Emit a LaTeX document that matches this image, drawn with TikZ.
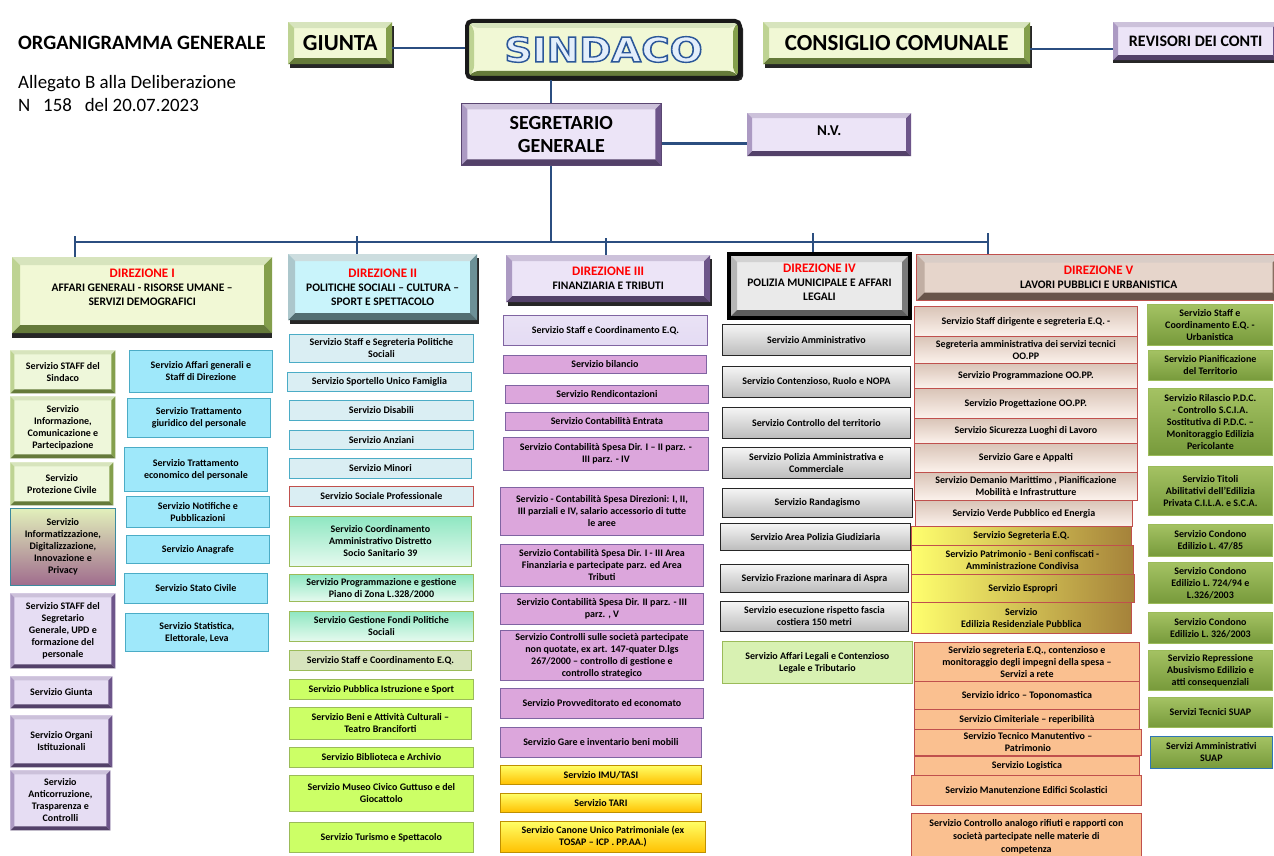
\documentclass[tikz,border=0pt]{standalone}
\usepackage{fontspec}
\setmainfont{Carlito}
\newfontfamily\wordartfont{DejaVu Sans}
\usepackage{graphicx}
\usepackage{tikz}
\usetikzlibrary{shadows}
\usepackage{xcolor}
\definecolor{linkblue}{HTML}{2B4E80}
\definecolor{offgreen}{HTML}{9BBB59}
\definecolor{offpurple}{HTML}{8064A2}
\definecolor{offteal}{HTML}{4BACC6}
\definecolor{offred}{HTML}{C0504D}
\definecolor{limecentre}{HTML}{F1F8D5}
\definecolor{lilaccentre}{HTML}{ECE4F7}
\definecolor{icecentre}{HTML}{C9F4FB}
\definecolor{greycentre}{HTML}{EAEAEA}
\definecolor{tancentre}{HTML}{E6D5CB}
\definecolor{tanedge}{HTML}{A08272}
\definecolor{tealedge}{HTML}{7FA9B0}
\definecolor{greyedge}{HTML}{8F8F8F}
\definecolor{sidegreen}{HTML}{EEF7DA}
\definecolor{sidelilac}{HTML}{E6DDF3}
\definecolor{infotop}{HTML}{E2F0BB}
\definecolor{infobot}{HTML}{A06C8D}
\definecolor{cyanfill}{HTML}{9FE8FA}
\definecolor{paleblue}{HTML}{DAEEF3}
\definecolor{mintdark}{HTML}{8FE7C2}
\definecolor{mintlight}{HTML}{E6FAEF}
\definecolor{eqgreen}{HTML}{D7E4BD}
\definecolor{limefill}{HTML}{CCFF66}
\definecolor{plumfill}{HTML}{DCA6DC}
\definecolor{lilacfill}{HTML}{E4DBF3}
\definecolor{goldtop}{HTML}{FFFF66}
\definecolor{goldbot}{HTML}{FFC000}
\definecolor{goldedge}{HTML}{BF9000}
\definecolor{greytop}{HTML}{F5F5F5}
\definecolor{greybot}{HTML}{BCBCBC}
\definecolor{tantop}{HTML}{D9C4B7}
\definecolor{tanbot}{HTML}{FCF2EC}
\definecolor{ochreleft}{HTML}{FFFF6E}
\definecolor{ochreright}{HTML}{A5823A}
\definecolor{salmonfill}{HTML}{FAC090}
\definecolor{olivetop}{HTML}{A4C263}
\definecolor{olivebot}{HTML}{779A3B}
\definecolor{legalgreen}{HTML}{D8F1B2}
\definecolor{suapblue}{HTML}{2E75B6}
\definecolor{sindacolight}{HTML}{E3EEFB}
\tikzset{
  bevel/.style 2 args={path picture={
    \coordinate (q1) at (path picture bounding box.south west);
    \coordinate (q3) at (path picture bounding box.north east);
    \coordinate (q2) at (q1 -| q3);
    \coordinate (q4) at (q1 |- q3);
    \coordinate (p1) at ([shift={(#2,#2)}]q1);
    \coordinate (p3) at ([shift={(-#2,-#2)}]q3);
    \coordinate (p2) at (p1 -| p3);
    \coordinate (p4) at (p1 |- p3);
    \fill[#1!40!white] (q4) -- (q3) -- (p3) -- (p4) -- cycle;
    \fill[#1!65!white] (q1) -- (p1) -- (p4) -- (q4) -- cycle;
    \fill[#1!85!black] (q2) -- (q3) -- (p3) -- (p2) -- cycle;
    \fill[#1!65!black] (q1) -- (q2) -- (p2) -- (p1) -- cycle;
  }},
  link/.style={draw=linkblue, line width=2.6pt},
  blackshadow/.style={drop shadow={shadow xshift=1.5pt, shadow yshift=-3.5pt, fill=black!85, opacity=1}},
  topbox/.style={anchor=north west, align=center, inner sep=1pt, font=\bfseries},
  dirbox/.style={anchor=north west, align=center, inner sep=1pt, font={\fontsize{11.5}{14}\selectfont\bfseries}},
  svcbox/.style={anchor=north west, align=center, inner sep=0.5pt, line width=0.8pt, font={\fontsize{10}{12}\selectfont\bfseries}},
  greenside/.style={svcbox, fill=sidegreen, bevel={offgreen}{4pt}, minimum width=105},
  lilacside/.style={svcbox, fill=sidelilac, bevel={offpurple}{4pt}, minimum width=102},
  cyanbox/.style={svcbox, fill=cyanfill, draw=offteal, minimum width=143},
  socialbox/.style={svcbox, fill=paleblue, draw=offteal, minimum width=184},
  mintbox/.style={svcbox, top color=mintdark, bottom color=mintlight, draw=offgreen, minimum width=184},
  limebox/.style={svcbox, fill=limefill, draw=offgreen, minimum width=184},
  plumbox/.style={svcbox, fill=plumfill, draw=offpurple, minimum width=203},
  goldbox/.style={svcbox, top color=goldtop, bottom color=goldbot, draw=goldedge, minimum width=201},
  greybox/.style={svcbox, top color=greytop, bottom color=greybot, draw=black!85, minimum width=188},
  tanbox/.style={svcbox, top color=tantop, bottom color=tanbot, draw=offred, minimum width=223},
  ochrebox/.style={svcbox, left color=ochreleft, right color=ochreright, draw=offred, minimum width=222},
  salmonbox/.style={svcbox, fill=salmonfill, draw=offred, minimum width=225},
  olivebox/.style={svcbox, top color=olivetop, bottom color=olivebot, draw=offgreen, minimum width=124}
}

\begin{document}
\begin{tikzpicture}[x=1pt, y=-1pt]
\useasboundingbox (0,0) rectangle (1274,856);
\clip (0,0) rectangle (1274,856);

% heading
\node[anchor=west, inner sep=0pt, font={\fontsize{20.4}{23}\selectfont\bfseries}] (title) at (18,43) {ORGANIGRAMMA GENERALE};
\node[anchor=west, inner sep=0pt, font={\fontsize{18.9}{23}\selectfont}, align=left] (allegato) at (18,94) {Allegato B alla Deliberazione\\N\ \ \ 158\ \ \ del 20.07.2023};

% organi di governo
\node[topbox, fill=limecentre, bevel={offgreen}{6pt}, blackshadow, minimum width=104, minimum height=42, font={\fontsize{23}{26}\selectfont\bfseries}] (giunta) at (288,22) {GIUNTA};
\node[topbox, fill=limecentre, bevel={offgreen}{7pt}, draw=black!90, line width=4pt, rounded corners=5pt, drop shadow={shadow xshift=3pt, shadow yshift=-3pt, fill=black!85, opacity=1}, minimum width=273, minimum height=57] (sindaco) at (465,19) {{\wordartfont\bfseries\fontsize{34}{36}\selectfont\color{sindacolight}\special{pdf:literal direct 2 Tr 1.4 w 0.17 0.34 0.6 RG}\scalebox{1.14}[1]{SINDACO}\special{pdf:literal direct 0 Tr}}};
\node[topbox, fill=limecentre, bevel={offgreen}{6pt}, blackshadow, minimum width=267, minimum height=42, font={\fontsize{23}{26}\selectfont\bfseries}] (consiglio) at (763,22) {CONSIGLIO COMUNALE};
\node[topbox, fill=lilaccentre, bevel={offpurple}{5pt}, drop shadow={shadow xshift=0pt, shadow yshift=-2.5pt, fill=black!85, opacity=1}, minimum width=165, minimum height=38, font={\fontsize{16}{19}\selectfont\bfseries}] (revisori) at (1113,22) {REVISORI DEI CONTI};
\node[topbox, fill=lilaccentre, bevel={offpurple}{6pt}, draw=offpurple!70!black, line width=0.6pt, minimum width=200, minimum height=62, font={\fontsize{20}{23}\selectfont\bfseries}] (segretario) at (461,103) {SEGRETARIO\\GENERALE};
\node[topbox, fill=lilaccentre, bevel={offpurple}{5pt}, text depth=8pt, minimum width=164, minimum height=43, font={\fontsize{15}{18}\selectfont\bfseries}] (nv) at (747,113) {N.V.};

% direzioni
\node[dirbox, fill=limecentre, bevel={offgreen}{8pt}, drop shadow={shadow xshift=0pt, shadow yshift=-5pt, fill=black!85, opacity=1}, text depth=16pt, minimum width=260, minimum height=76] (dirI) at (12,257) {\textcolor{red}{\fontsize{13}{15}\selectfont DIREZIONE I}\\AFFARI GENERALI - RISORSE UMANE –\\SERVIZI DEMOGRAFICI};
\node[dirbox, fill=icecentre, bevel={tealedge}{7pt}, blackshadow, minimum width=189, minimum height=66] (dirII) at (288,254) {\textcolor{red}{\fontsize{13}{15}\selectfont DIREZIONE II}\\POLITICHE SOCIALI – CULTURA –\\SPORT E SPETTACOLO};
\node[dirbox, fill=lilaccentre, bevel={offpurple}{6pt}, blackshadow, minimum width=204, minimum height=47] (dirIII) at (506,255) {\textcolor{red}{\fontsize{13}{15}\selectfont DIREZIONE III}\\FINANZIARIA E TRIBUTI};
\node[dirbox, fill=greycentre, bevel={greyedge}{8pt}, draw=black, line width=4pt, text depth=7pt, minimum width=181, minimum height=64] (dirIV) at (727,252) {\textcolor{red}{\fontsize{13}{15}\selectfont DIREZIONE IV}\\POLIZIA MUNICIPALE E AFFARI\\LEGALI};
\node[dirbox, fill=tancentre, bevel={tanedge}{8pt}, draw=offred, line width=1.2pt, minimum width=364, minimum height=46] (dirV) at (916,254) {\textcolor{red}{\fontsize{13}{15}\selectfont DIREZIONE V}\\LAVORI PUBBLICI E URBANISTICA};

% collegamenti
\coordinate (bus1) at (75,242);
\coordinate (bus2) at (357,242);
\coordinate (bus3) at (551,242);
\coordinate (bus4) at (606,242);
\coordinate (bus5) at (813,242);
\coordinate (bus6) at (988,242);
\draw[link] ([yshift=-5pt]giunta.east) -- ([yshift=-5pt]giunta.east -| sindaco.west);
\draw[link] ([yshift=-6pt]consiglio.east) -- ([yshift=-6pt]consiglio.east -| revisori.west);
\draw[link] ([yshift=-9pt]segretario.east) -- ([yshift=-9pt]segretario.east -| nv.west);
\draw[link] (bus3 |- sindaco.south) -- (bus3 |- segretario.north);
\draw[link] (bus3 |- segretario.south) -- (bus3);
\draw[link] (bus1) -- (bus6);
\draw[link] ([yshift=6pt]bus1) -- (bus1 |- dirI.north);
\draw[link] ([yshift=6pt]bus2) -- (bus2 |- dirII.north);
\draw[link] ([yshift=4pt]bus4) -- (bus4 |- dirIII.north);
\draw[link] ([yshift=9pt]bus5) -- (bus5 |- dirIV.north);
\draw[link] ([yshift=9pt]bus6) -- (bus6 |- dirV.north);

% Direzione I
\node[greenside, minimum height=43] (staffsindaco) at (10,350) {Servizio STAFF del\\Sindaco};
\node[greenside, minimum height=62] (informazione) at (10,396) {Servizio\\Informazione,\\Comunicazione e\\Partecipazione};
\node[greenside, minimum width=103, minimum height=43] (protezione) at (10,462) {Servizio\\Protezione Civile};
\node[svcbox, top color=infotop, bottom color=infobot, draw=offteal!80!black, minimum width=105, minimum height=77] (informatica) at (10,508) {Servizio\\Informatizzazione,\\Digitalizzazione,\\Innovazione e\\Privacy};
\node[lilacside, minimum width=105, minimum height=75] (staffsegretario) at (10,593) {Servizio STAFF del\\Segretario\\Generale, UPD e\\formazione del\\personale};
\node[lilacside, minimum height=32] (servgiunta) at (10,676) {Servizio Giunta};
\node[lilacside, minimum height=52] (organi) at (10,715) {Servizio Organi\\Istituzionali};
\node[lilacside, minimum width=100, minimum height=60] (anticorruzione) at (10,770) {Servizio\\Anticorruzione,\\Trasparenza e\\Controlli};
\node[cyanbox, minimum height=42] (affarigen) at (129,350) {Servizio Affari generali e\\Staff di Direzione};
\node[cyanbox, minimum height=39] (giuridico) at (127,398) {Servizio Trattamento\\giuridico del personale};
\node[cyanbox, minimum height=44] (economico) at (124,447) {Servizio Trattamento\\economico del personale};
\node[cyanbox, minimum height=31] (notifiche) at (126,496) {Servizio Notifiche e\\Pubblicazioni};
\node[cyanbox, minimum height=28] (anagrafe) at (126,535) {Servizio Anagrafe};
\node[cyanbox, minimum height=30] (statocivile) at (124,573) {Servizio Stato Civile};
\node[cyanbox, minimum height=38] (statistica) at (125,613) {Servizio Statistica,\\Elettorale, Leva};

% Direzione II
\node[socialbox, minimum height=28] (segrsociali) at (289,334) {Servizio Staff  e Segreteria Politiche\\Sociali};
\node[socialbox, minimum height=19] (famiglia) at (287,372) {Servizio Sportello Unico Famiglia};
\node[socialbox, minimum height=20] (disabili) at (289,400) {Servizio Disabili};
\node[socialbox, minimum height=19] (anziani) at (289,430) {Servizio  Anziani};
\node[socialbox, minimum width=182, minimum height=20] (minori) at (289,458) {Servizio Minori};
\node[socialbox, draw=offred, minimum height=20] (professionale) at (289,486) {Servizio Sociale Professionale};
\node[mintbox, minimum width=182, minimum height=50] (distretto) at (289,516) {Servizio Coordinamento\\Amministrativo  Distretto\\Socio Sanitario 39};
\node[mintbox, minimum height=27] (pianozona) at (289,574) {Servizio Programmazione e gestione\\Piano di Zona L.328/2000};
\node[mintbox, minimum height=30] (fondi) at (289,611) {Servizio Gestione  Fondi Politiche\\Sociali};
\node[limebox, fill=eqgreen, minimum width=182, minimum height=20] (eqdue) at (289,650) {Servizio Staff e Coordinamento E.Q.};
\node[limebox, minimum height=20] (istruzione) at (289,679) {Servizio Pubblica Istruzione e Sport};
\node[limebox, minimum width=182, minimum height=32] (beni) at (289,707) {Servizio Beni e Attività Culturali –\\Teatro Branciforti};
\node[limebox, minimum height=20] (biblioteca) at (289,747) {Servizio Biblioteca e Archivio};
\node[limebox, minimum height=36] (museo) at (289,775) {Servizio Museo Civico Guttuso  e del\\Giocattolo};
\node[limebox, minimum height=30] (turismo) at (289,822) {Servizio Turismo e Spettacolo};

% Direzione III
\node[plumbox, top color=lilacfill!80!white, bottom color=lilacfill, minimum width=204, minimum height=30] (eqtre) at (503,315) {Servizio Staff e Coordinamento E.Q.};
\node[plumbox, minimum height=18] (bilancio) at (503,355) {Servizio bilancio};
\node[plumbox, minimum height=18] (rendiconti) at (505,385) {Servizio Rendicontazioni};
\node[plumbox, minimum height=18] (entrata) at (505,412) {Servizio Contabilità Entrata};
\node[plumbox, minimum width=205, minimum height=33] (spesaa) at (503,437) {Servizio Contabilità Spesa Dir. I – II parz. -\\III parz. - IV};
\node[plumbox, minimum height=48] (spesab) at (500,487) {Servizio - Contabilità Spesa Direzioni: I, II,\\III parziali e IV, salario accessorio di tutte\\le aree};
\node[plumbox, minimum height=42] (spesac) at (500,544) {Servizio Contabilità Spesa Dir. I - III Area\\Finanziaria e partecipate parz. ed Area\\Tributi};
\node[plumbox, minimum height=31] (spesad) at (500,593) {Servizio Contabilità Spesa Dir. II parz. - III\\parz. , V};
\node[plumbox, minimum height=50] (partecipate) at (500,630) {Servizio Controlli sulle società partecipate\\non quotate, ex art. 147-quater D.lgs\\267/2000 – controllo di gestione e\\controllo strategico};
\node[plumbox, minimum height=30] (economato) at (500,688) {Servizio Provveditorato ed economato};
\node[plumbox, minimum width=201, minimum height=30] (inventario) at (500,727) {Servizio  Gare e inventario beni mobili};
\node[goldbox, minimum height=19] (imu) at (500,765) {Servizio IMU/TASI};
\node[goldbox, minimum height=19] (tari) at (500,793) {Servizio TARI};
\node[goldbox, minimum width=205, minimum height=31] (canone) at (500,821) {Servizio Canone Unico Patrimoniale (ex\\TOSAP – ICP . PP.AA.)};

% Direzione IV
\node[greybox, minimum height=31] (amministrativo) at (722,324) {Servizio  Amministrativo};
\node[greybox, minimum height=31] (contenzioso) at (722,366) {Servizio Contenzioso, Ruolo e NOPA};
\node[greybox, minimum height=31] (territorio) at (722,407) {Servizio Controllo  del territorio};
\node[greybox, minimum height=31] (commerciale) at (722,447) {Servizio Polizia Amministrativa e\\Commerciale};
\node[greybox, minimum width=190, minimum height=29] (randagismo) at (722,488) {Servizio Randagismo};
\node[greybox, minimum width=190, minimum height=27] (giudiziaria) at (720,523) {Servizio Area Polizia Giudiziaria};
\node[greybox, minimum height=28] (aspra) at (720,564) {Servizio Frazione marinara di Aspra};
\node[greybox, minimum height=30] (costiera) at (720,601) {Servizio  esecuzione rispetto fascia\\costiera 150 metri};
\node[svcbox, fill=legalgreen, draw=offgreen, minimum width=190, minimum height=42] (legali) at (722,641) {Servizio  Affari Legali e Contenzioso\\Legale  e Tributario};

% Direzione V
\node[tanbox, minimum height=30] (staffdir) at (914,306) {Servizio Staff dirigente e segreteria E.Q. -};
\node[tanbox, minimum height=27] (segrtecnici) at (914,336) {Segreteria amministrativa dei servizi tecnici\\OO.PP};
\node[tanbox, minimum height=25] (programmazione) at (914,363) {Servizio Programmazione OO.PP.};
\node[tanbox, minimum height=30] (progettazione) at (914,388) {Servizio Progettazione OO.PP.};
\node[tanbox, minimum height=25] (sicurezza) at (914,418) {Servizio Sicurezza Luoghi di Lavoro};
\node[tanbox, minimum height=29] (appalti) at (914,443) {Servizio Gare e Appalti};
\node[tanbox, minimum height=28] (demanio) at (914,472) {Servizio Demanio Marittimo  ,  Pianificazione\\Mobilità e Infrastrutture};
\node[tanbox, minimum width=217, minimum height=26] (verde) at (915,500) {Servizio Verde Pubblico ed Energia};
\node[ochrebox, minimum width=220, minimum height=19] (eqcinque) at (911,526) {Servizio Segreteria E.Q.};
\node[ochrebox, minimum height=29] (patrimonio) at (911,545) {Servizio Patrimonio - Beni confiscati  -\\Amministrazione Condivisa};
\node[ochrebox, minimum width=223, minimum height=28] (espropri) at (911,574) {Servizio  Espropri};
\node[ochrebox, minimum width=220, minimum height=31] (erp) at (911,602) {Servizio\\Edilizia Residenziale Pubblica};
\node[salmonbox, minimum height=39] (reti) at (914,642) {Servizio segreteria E.Q., contenzioso e\\monitoraggio degli impegni della spesa –\\Servizi a rete};
\node[salmonbox, minimum height=28] (idrico) at (914,681) {Servizio idrico – Toponomastica};
\node[salmonbox, minimum height=20] (cimiteriale) at (914,709) {Servizio Cimiteriale – reperibilità};
\node[salmonbox, minimum width=227, minimum height=26] (manutentivo) at (914,729) {Servizio Tecnico Manutentivo –\\Patrimonio};
\node[salmonbox, minimum height=19] (logistica) at (914,756) {Servizio Logistica};
\node[salmonbox, minimum width=230, minimum height=30] (scolastici) at (911,775) {Servizio Manutenzione Edifici Scolastici};
\node[salmonbox, minimum width=230, minimum height=46, font={\fontsize{10}{13}\selectfont\bfseries}] (rifiuti) at (911,813) {Servizio Controllo analogo rifiuti e rapporti con\\società partecipate nelle materie di\\competenza};

% Urbanistica
\node[olivebox, minimum width=125, minimum height=41] (staffurb) at (1147,304) {Servizio Staff e\\Coordinamento E.Q. -\\Urbanistica};
\node[olivebox, minimum height=30] (pianificazione) at (1148,350) {Servizio Pianificazione\\del Territorio};
\node[olivebox, minimum height=67] (rilascio) at (1148,388) {Servizio  Rilascio P.D.C.\\- Controllo S.C.I.A.\\Sostitutiva di P.D.C.  –\\Monitoraggio Edilizia\\Pericolante};
\node[olivebox, minimum height=49] (titoli) at (1148,466) {Servizio Titoli\\Abilitativi dell’Edilizia\\Privata C.I.L.A.  e S.C.A.};
\node[olivebox, minimum height=32] (condonoa) at (1148,524) {Servizio Condono\\Edilizio L. 47/85};
\node[olivebox, minimum height=41] (condonob) at (1148,562) {Servizio Condono\\Edilizio L. 724/94 e\\L.326/2003};
\node[olivebox, minimum height=31] (condonoc) at (1148,612) {Servizio Condono\\Edilizio L. 326/2003};
\node[olivebox, minimum height=40] (repressione) at (1148,650) {Servizio Repressione\\Abusivismo Edilizio e\\atti consequenziali};
\node[olivebox, minimum height=30] (suaptec) at (1148,697) {Servizi Tecnici SUAP};
\node[olivebox, draw=suapblue, minimum width=122, minimum height=32] (suapamm) at (1150,736) {Servizi Amministrativi\\SUAP};
\end{tikzpicture}
\end{document}
